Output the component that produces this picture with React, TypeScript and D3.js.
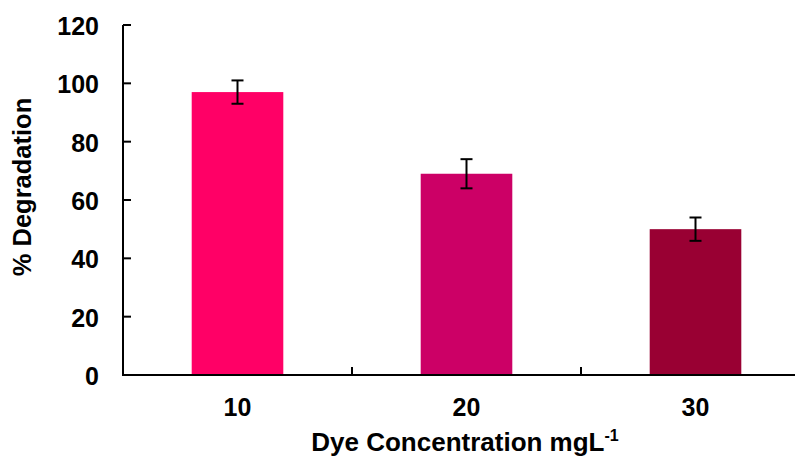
import React from "react";
import * as d3 from "d3";

const categories = ["10", "20", "30"];
const values = [97, 69, 50];
const errors = [4, 5, 4];
const colors = ["#FF0066", "#CC0066", "#990033"];
const yTicks = [0, 20, 40, 60, 80, 100, 120];

export default function App() {
  const W = 795, H = 457;
  const x0 = 123, y0 = 375, yTop = 25;
  const band = 229;
  const x = d3.scaleBand().domain(categories).range([x0, x0 + band * 3]).paddingInner(0.6).paddingOuter(0.3);
  const y = d3.scaleLinear().domain([0, 120]).range([y0, yTop]);
  const font = "'Liberation Sans', Arial, sans-serif";
  const bounds = [1, 2].map((i) => x0 + band * i);
  return (
    <svg width={W} height={H} style={{ position: "absolute", left: 0, top: 0, background: "#fff" }} fontFamily={font} fontWeight="bold">
      {categories.map((c, i) => (
        <rect key={c} x={x(c)} y={y(values[i])} width={x.bandwidth()} height={y0 - y(values[i])} fill={colors[i]} />
      ))}
      {categories.map((c, i) => {
        const cx = (x(c) as number) + x.bandwidth() / 2;
        const t = y(values[i] + errors[i]);
        const b = y(values[i] - errors[i]);
        return (
          <g key={"e" + c} stroke="#000" strokeWidth={2}>
            <line x1={cx} x2={cx} y1={t} y2={b} />
            <line x1={cx - 6} x2={cx + 6} y1={t} y2={t} />
            <line x1={cx - 6} x2={cx + 6} y1={b} y2={b} />
          </g>
        );
      })}
      <line x1={x0} x2={x0} y1={yTop} y2={y0 + 1} stroke="#000" strokeWidth={2} />
      <line x1={x0 - 1} x2={x0 + band * 3} y1={y0} y2={y0} stroke="#000" strokeWidth={2} />
      {yTicks.map((t) => (
        <g key={t}>
          <line x1={x0} x2={x0 + 8} y1={y(t)} y2={y(t)} stroke="#000" strokeWidth={2} />
          <text x={99} y={y(t) + 10} textAnchor="end" fontSize={25}>{t}</text>
        </g>
      ))}
      {bounds.map((b) => (
        <line key={b} x1={b} x2={b} y1={y0} y2={y0 - 8} stroke="#000" strokeWidth={2} />
      ))}
      {categories.map((c) => (
        <text key={"l" + c} x={(x(c) as number) + x.bandwidth() / 2} y={416} textAnchor="middle" fontSize={25}>{c}</text>
      ))}
      <text x={465} y={451} textAnchor="middle" fontSize={26}>
        Dye Concentration mgL<tspan dy={-10} fontSize={16}>-1</tspan>
      </text>
      <text transform={`translate(31,187) rotate(-90)`} textAnchor="middle" fontSize={25.5}>% Degradation</text>
    </svg>
  );
}
